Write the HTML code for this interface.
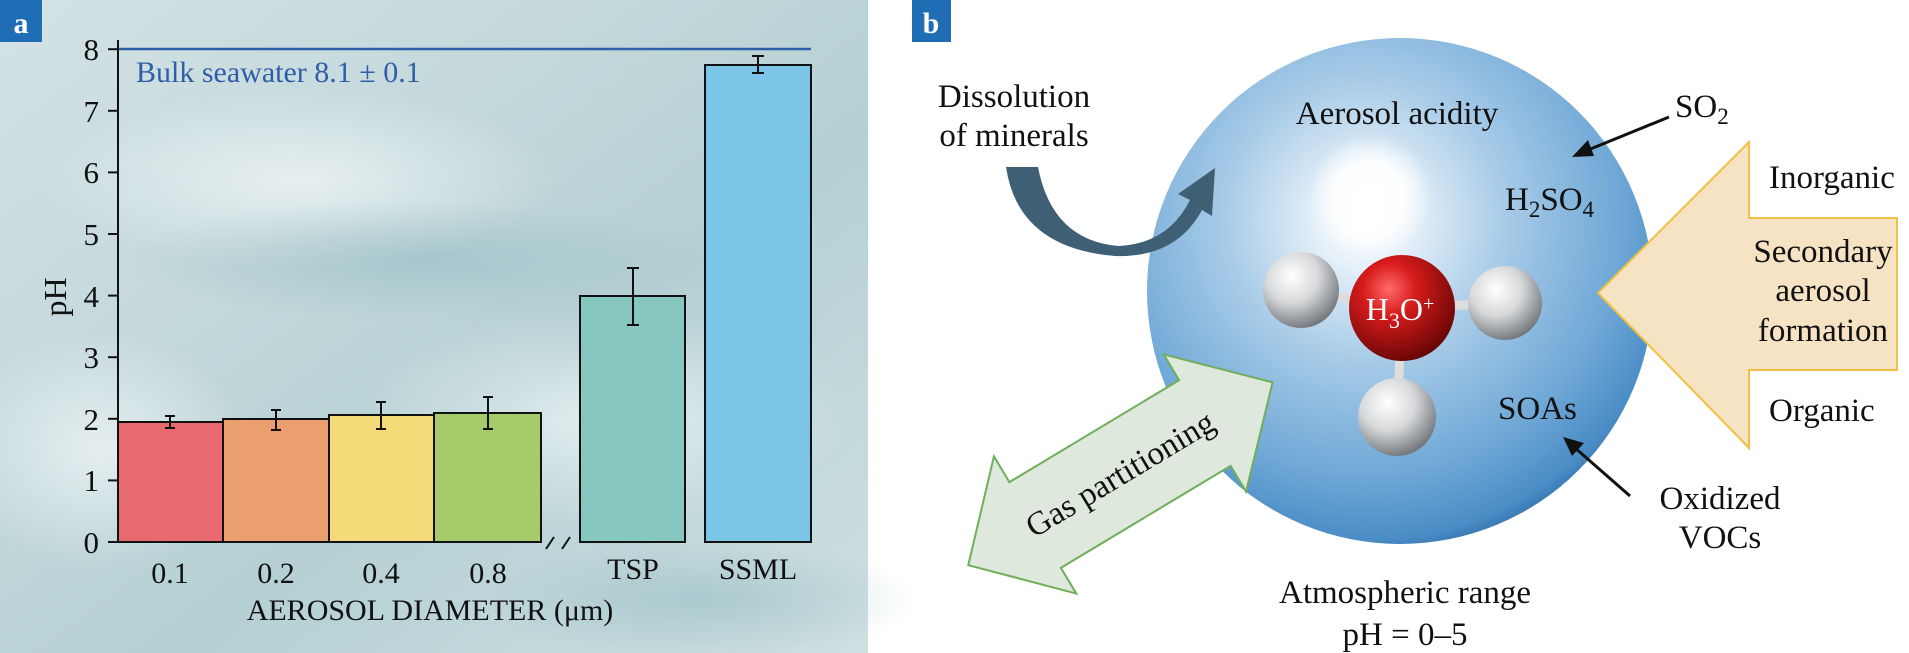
<!DOCTYPE html>
<html><head><meta charset="utf-8"><style>
html,body{margin:0;padding:0;background:#fff;width:1909px;height:653px;overflow:hidden}
svg{display:block}
text{font-family:"Liberation Serif",serif}
</style></head><body>
<svg width="1909" height="653" viewBox="0 0 1909 653" xmlns="http://www.w3.org/2000/svg">
<defs>
<linearGradient id="bg" x1="0" y1="0" x2="1" y2="1">
<stop offset="0" stop-color="#d4e2e4"/><stop offset="0.35" stop-color="#c3d8db"/>
<stop offset="0.6" stop-color="#b5d0d4"/><stop offset="1" stop-color="#cfe0e2"/></linearGradient>
<radialGradient id="w1" cx="0.5" cy="0.5" r="0.5"><stop offset="0" stop-color="#ffffff" stop-opacity="0.6"/><stop offset="1" stop-color="#ffffff" stop-opacity="0"/></radialGradient>
<radialGradient id="d1" cx="0.5" cy="0.5" r="0.5"><stop offset="0" stop-color="#8fb8bf" stop-opacity="0.5"/><stop offset="1" stop-color="#8fb8bf" stop-opacity="0"/></radialGradient>
<radialGradient id="sph" cx="0.43" cy="0.36" r="0.68"><stop offset="0" stop-color="#ffffff"/><stop offset="0.1" stop-color="#eef5fb"/><stop offset="0.4" stop-color="#a9cce8"/><stop offset="0.75" stop-color="#6ea7d6"/><stop offset="0.93" stop-color="#4a8cc6"/><stop offset="1" stop-color="#2d6aa3"/></radialGradient>
<radialGradient id="hl" cx="0.5" cy="0.5" r="0.5"><stop offset="0" stop-color="#fff"/><stop offset="0.55" stop-color="#fff" stop-opacity="0.9"/><stop offset="1" stop-color="#fff" stop-opacity="0"/></radialGradient>
<radialGradient id="red" cx="0.38" cy="0.32" r="0.7"><stop offset="0" stop-color="#ff6a6a"/><stop offset="0.35" stop-color="#d81c1c"/><stop offset="1" stop-color="#6a0606"/></radialGradient>
<radialGradient id="wh" cx="0.38" cy="0.32" r="0.7"><stop offset="0" stop-color="#ffffff"/><stop offset="0.5" stop-color="#d6d8da"/><stop offset="1" stop-color="#74787c"/></radialGradient>
</defs>
<rect x="0" y="0" width="868" height="653" fill="url(#bg)"/>
<ellipse cx="300" cy="180" rx="260" ry="90" fill="url(#w1)"/>
<ellipse cx="600" cy="420" rx="250" ry="110" fill="url(#w1)"/>
<ellipse cx="100" cy="450" rx="150" ry="120" fill="url(#w1)"/>
<ellipse cx="420" cy="260" rx="300" ry="60" fill="url(#d1)"/>
<ellipse cx="700" cy="600" rx="220" ry="60" fill="url(#d1)"/>
<rect x="0" y="0" width="42" height="42" fill="#1f6db4"/>
<text x="21" y="33" font-size="30" font-weight="bold" fill="#fff" text-anchor="middle">a</text>
<line x1="118" y1="49" x2="811" y2="49" stroke="#2f5ea8" stroke-width="2.5"/>
<text x="136" y="82" font-size="30" fill="#2f5ea8">Bulk seawater 8.1 ± 0.1</text>
<line x1="118" y1="40" x2="118" y2="542" stroke="#111" stroke-width="2"/>
<line x1="118" y1="542" x2="541" y2="542" stroke="#111" stroke-width="2"/>
<g stroke="#111" stroke-width="2">
<line x1="108" y1="542" x2="118" y2="542"/><line x1="108" y1="480.4" x2="118" y2="480.4"/><line x1="108" y1="418.8" x2="118" y2="418.8"/><line x1="108" y1="357.2" x2="118" y2="357.2"/><line x1="108" y1="295.6" x2="118" y2="295.6"/><line x1="108" y1="234" x2="118" y2="234"/><line x1="108" y1="172.4" x2="118" y2="172.4"/><line x1="108" y1="110.8" x2="118" y2="110.8"/><line x1="108" y1="49.2" x2="118" y2="49.2"/>
</g>
<g font-size="31" fill="#111" text-anchor="end">
<text x="99" y="553">0</text><text x="99" y="491">1</text><text x="99" y="430">2</text><text x="99" y="368">3</text><text x="99" y="307">4</text><text x="99" y="245">5</text><text x="99" y="183">6</text><text x="99" y="122">7</text><text x="99" y="60">8</text>
</g>
<text transform="translate(66,297) rotate(-90)" font-size="32" fill="#111" text-anchor="middle">pH</text>
<g stroke="#111" stroke-width="2">
<rect x="118" y="422" width="105" height="120" fill="#e76a6f"/>
<rect x="223" y="419" width="106" height="123" fill="#eb9f6e"/>
<rect x="329" y="415" width="105" height="127" fill="#f5da7a"/>
<rect x="434" y="413" width="107" height="129" fill="#a6cb6b"/>
<rect x="580" y="296" width="105" height="246" fill="#86c8bf"/>
<rect x="705" y="65" width="106" height="477" fill="#7bc6e6"/>
</g>
<g stroke="#111" stroke-width="2">
<line x1="170" y1="416" x2="170" y2="428"/><line x1="165" y1="416" x2="175" y2="416"/><line x1="165" y1="428" x2="175" y2="428"/>
<line x1="276" y1="410" x2="276" y2="430"/><line x1="271" y1="410" x2="281" y2="410"/><line x1="271" y1="430" x2="281" y2="430"/>
<line x1="381" y1="402" x2="381" y2="429"/><line x1="376" y1="402" x2="386" y2="402"/><line x1="376" y1="429" x2="386" y2="429"/>
<line x1="488" y1="397" x2="488" y2="429"/><line x1="483" y1="397" x2="493" y2="397"/><line x1="483" y1="429" x2="493" y2="429"/>
<line x1="633" y1="268" x2="633" y2="325"/><line x1="627" y1="268" x2="639" y2="268"/><line x1="627" y1="325" x2="639" y2="325"/>
<line x1="758" y1="56" x2="758" y2="73"/><line x1="752" y1="56" x2="764" y2="56"/><line x1="752" y1="73" x2="764" y2="73"/>
<line x1="546" y1="549" x2="554" y2="537"/><line x1="562" y1="549" x2="570" y2="537"/>
</g>
<g font-size="30" fill="#111" text-anchor="middle">
<text x="170" y="583">0.1</text><text x="276" y="583">0.2</text><text x="381" y="583">0.4</text><text x="488" y="583">0.8</text>
<text x="633" y="579">TSP</text><text x="758" y="579">SSML</text>
<text x="430" y="620">AEROSOL DIAMETER (μm)</text>
</g>
<rect x="912" y="0" width="39" height="42" fill="#1f6db4"/>
<text x="931" y="33" font-size="30" font-weight="bold" fill="#fff" text-anchor="middle">b</text>
<circle cx="1400" cy="291" r="253" fill="url(#sph)"/>
<circle cx="1370" cy="196" r="62" fill="url(#hl)"/>
<line x1="1301" y1="290" x2="1402" y2="308" stroke="#ddd" stroke-width="9"/>
<line x1="1505" y1="303" x2="1402" y2="308" stroke="#ddd" stroke-width="9"/>
<line x1="1397" y1="417" x2="1402" y2="308" stroke="#ddd" stroke-width="9"/>
<circle cx="1301" cy="290" r="38" fill="url(#wh)"/>
<circle cx="1505" cy="303" r="37" fill="url(#wh)"/>
<circle cx="1397" cy="417" r="39" fill="url(#wh)"/>
<circle cx="1402" cy="308" r="53" fill="url(#red)"/>
<text x="1400" y="320" font-size="32" fill="#fff" text-anchor="middle">H<tspan font-size="22" dy="8">3</tspan><tspan dy="-8">O</tspan><tspan font-size="20" dy="-10">+</tspan></text>
<path d="M1006,167 L1038,167 Q1052,240 1118,246 Q1168,244 1190,200 L1178,194 L1215,168 L1212,216 L1202,210 Q1176,258 1115,256 Q1018,248 1006,167 Z" fill="#3f5f75"/>
<polygon points="1598,293 1749,142 1749,218 1897,218 1897,370 1749,370 1749,448" fill="#f5e3c4" stroke="#f0c040" stroke-width="2"/>
<g transform="translate(1120,474) rotate(-31)">
<polygon points="-177,0 -99,-80 -99,-50 99,-50 99,-80 178,0 99,80 99,50 -99,50 -99,80" fill="#dfe8dc" stroke="#6fae5a" stroke-width="2"/>
<text x="0" y="11" font-size="33" fill="#111" text-anchor="middle">Gas partitioning</text>
</g>
<g stroke="#111" stroke-width="3" fill="#111">
<line x1="1669" y1="117" x2="1588" y2="150"/>
<polygon points="1572,157 1588,140 1594,156" stroke="none"/>
<line x1="1630" y1="496" x2="1574" y2="447"/>
<polygon points="1563,437 1584,443 1572,456" stroke="none"/>
</g>
<g font-size="33" fill="#111">
<text x="1014" y="107" text-anchor="middle">Dissolution</text>
<text x="1014" y="146" text-anchor="middle">of minerals</text>
<text x="1397" y="124" text-anchor="middle">Aerosol acidity</text>
<text x="1675" y="117">SO<tspan font-size="23" dy="7">2</tspan></text>
<text x="1505" y="210">H<tspan font-size="23" dy="7">2</tspan><tspan dy="-7">SO</tspan><tspan font-size="23" dy="7">4</tspan></text>
<text x="1769" y="188">Inorganic</text>
<text x="1823" y="262" text-anchor="middle">Secondary</text>
<text x="1823" y="301" text-anchor="middle">aerosol</text>
<text x="1823" y="341" text-anchor="middle">formation</text>
<text x="1769" y="421">Organic</text>
<text x="1498" y="419">SOAs</text>
<text x="1720" y="509" text-anchor="middle">Oxidized</text>
<text x="1720" y="548" text-anchor="middle">VOCs</text>
<text x="1405" y="603" text-anchor="middle">Atmospheric range</text>
<text x="1405" y="645" text-anchor="middle">pH = 0–5</text>
</g>
</svg>
</body></html>
